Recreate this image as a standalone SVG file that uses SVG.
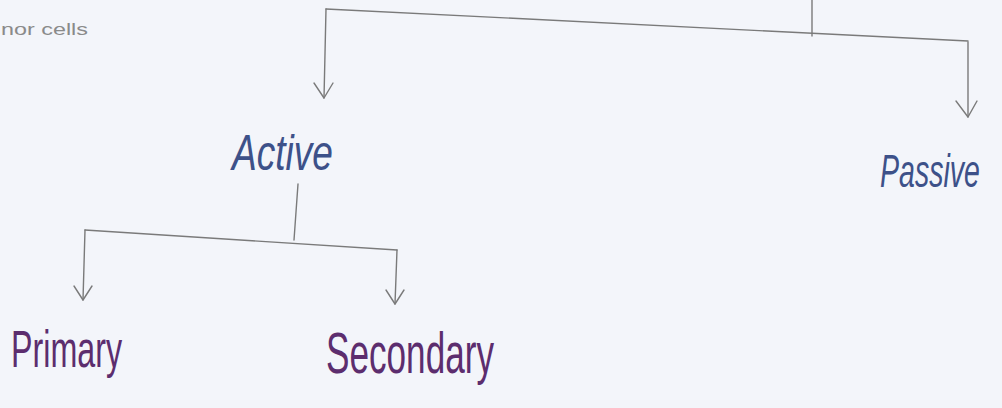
<svg xmlns="http://www.w3.org/2000/svg" width="1002" height="408" viewBox="0 0 1002 408">
<style>
.bg{fill:#f3f5fa}
.ln{stroke:#7a7a7a;stroke-width:1.4;fill:none;stroke-linecap:round;stroke-linejoin:round}
.blue{font-family:"Liberation Sans",sans-serif;font-style:italic;fill:#3d5189}
.purple{font-family:"Liberation Sans",sans-serif;fill:#5c2d6e}
.note{font-family:"Liberation Sans",sans-serif;fill:#8a8a8a}
</style>
<rect class="bg" width="1002" height="408"/>
<text class="note" x="1" y="35" font-size="17" textLength="87" lengthAdjust="spacingAndGlyphs">nor cells</text>
<g id="connectors">
<path class="ln" d="M812 0 L812 36"/>
<path class="ln" d="M326 9 L968 41"/>
<path class="ln" d="M326 9 L324 98"/>
<path class="ln" d="M968 42 L968 117"/>
<path class="ln" d="M298 184 L294 240"/>
<path class="ln" d="M85 230 L397 250"/>
<path class="ln" d="M85 230 L83 300"/>
<path class="ln" d="M397 250 L395 304"/>
<path class="ln" d="M314 83 L324 98 L333 83"/>
<path class="ln" d="M956 101 L968 117 L977 101"/>
<path class="ln" d="M74 286 L83 300 L92 286"/>
<path class="ln" d="M386 290 L395 304 L404 290"/>
</g>
<g id="active"><text class="blue" x="232" y="170" font-size="50" textLength="101" lengthAdjust="spacingAndGlyphs">Active</text></g>
<g id="passive"><text class="blue" transform="translate(880 187) scale(0.62 1)" x="0" y="0" font-size="46">Passive</text></g>
<g id="primary"><text class="purple" x="11" y="367" font-size="52" textLength="111" lengthAdjust="spacingAndGlyphs">Primary</text></g>
<g id="secondary"><text class="purple" x="326" y="373" font-size="58" textLength="168" lengthAdjust="spacingAndGlyphs">Secondary</text></g>
</svg>
